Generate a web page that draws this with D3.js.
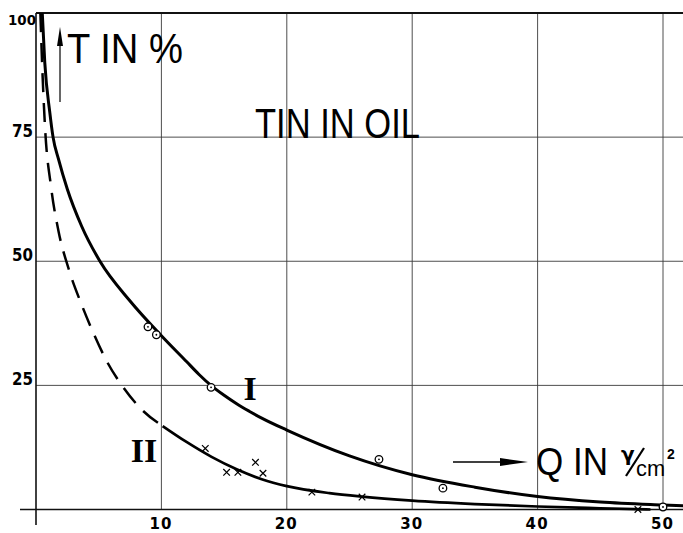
<!DOCTYPE html>
<html>
<head>
<meta charset="utf-8">
<title>Tin in oil</title>
<script src="https://cdn.jsdelivr.net/npm/d3@7"></script>
<style>
body { margin: 0; background: #fff; }
svg { display: block; }
.grid line { stroke: #3a3a3a; stroke-width: 0.9; }
.tick-y { font: bold 18px "DejaVu Sans", sans-serif; text-anchor: end; }
.tick-x { font: bold 15px "DejaVu Sans", sans-serif; text-anchor: middle; }
.big { font: 43px "Liberation Sans", Arial, sans-serif; }
.roman { font: bold 34px "Liberation Serif", serif; text-anchor: middle; }
</style>
</head>
<body>
<script>
// values (x = Q in γ/cm², y = T in %)
var xTicks = [10, 20, 30, 40, 50];
var yTicks = [25, 50, 75, 100];

var curveI = [[0.5, 100], [0.7, 90], [1.1, 80], [1.36, 75], [1.8, 70.5], [2.5, 64.5],
  [3.65, 57], [5.1, 50], [7.5, 42], [10, 35], [12, 29.8], [13, 27.2], [14, 24.9],
  [15, 23.0], [16, 21.3], [17, 19.8], [18, 18.4], [20, 16.0], [25, 10.8], [30, 7.0],
  [35, 4.5], [40, 2.6], [45, 1.5], [50, 0.9], [52, 0.7]];

var curveIIdashed = [[0.35, 100], [0.5, 89], [0.72, 77], [1.2, 65], [1.8, 56], [2.6, 48.5],
  [3.6, 41.5], [4.5, 36], [5.7, 29.6], [6.9, 24.8], [8.4, 20.2], [10.1, 16.8]];

var curveIIsolid = [[10.1, 16.8], [12, 13.6], [14, 10.6], [16, 8.1], [18, 6.1], [20, 4.7],
  [23.4, 3.3], [26, 2.6], [30, 1.8], [35, 1.1], [40, 0.6], [45, 0.25], [49, 0]];

var pointsI = [[8.93, 36.8], [9.6, 35.2], [13.96, 24.6], [27.35, 10.1], [32.45, 4.3], [50, 0.5]];
var pointsII = [[13.5, 12.3], [15.2, 7.5], [16.1, 7.5], [17.5, 9.5], [18.1, 7.3], [22, 3.5],
  [26, 2.5], [48, 0]];

var W = 683, H = 533;
var x = d3.scaleLinear().domain([0, 50]).range([36, 663]);
var y = d3.scaleLinear().domain([0, 100]).range([509.5, 13]);

var svg = d3.select("body").append("svg").attr("width", W).attr("height", H);

// grid
var grid = svg.append("g").attr("class", "grid");
grid.selectAll(".v").data(xTicks).enter().append("line")
  .attr("x1", function(d) { return x(d); }).attr("x2", function(d) { return x(d); })
  .attr("y1", y(100)).attr("y2", y(0));
grid.selectAll(".h").data(yTicks).enter().append("line")
  .attr("x1", x(0)).attr("x2", W)
  .attr("y1", function(d) { return y(d); }).attr("y2", function(d) { return y(d); })
  .style("stroke-width", function(d) { return d === 100 ? 1.8 : 0.9; })
  .style("stroke", function(d) { return d === 100 ? "#111" : null; });

// axes
svg.append("line").attr("x1", x(0)).attr("x2", x(0)).attr("y1", y(100)).attr("y2", 525)
  .attr("stroke", "#111").attr("stroke-width", 1.6);
svg.append("line").attr("x1", 20).attr("x2", W).attr("y1", y(0)).attr("y2", y(0))
  .attr("stroke", "#111").attr("stroke-width", 1.6);

// tick labels
svg.selectAll(".tick-y").data(yTicks).enter().append("text")
  .attr("class", "tick-y")
  .attr("x", function(d) { return d === 100 ? 36 : 33; })
  .attr("y", function(d) { return d === 100 ? y(d) + 12 : y(d) - 0.5; })
  .attr("textLength", function(d) { return d === 100 ? 28 : 21; })
  .attr("lengthAdjust", "spacingAndGlyphs")
  .style("font-size", function(d) { return d === 100 ? "14px" : null; })
  .text(function(d) { return d; });

svg.selectAll(".tick-x").data(xTicks).enter().append("text")
  .attr("class", "tick-x")
  .attr("x", function(d) { return x(d) - 1; })
  .attr("y", 529)
  .attr("textLength", 22)
  .attr("lengthAdjust", "spacing")
  .text(function(d) { return d; });

// curves
var line = d3.line().x(function(d) { return x(d[0]); }).y(function(d) { return y(d[1]); })
  .curve(d3.curveMonotoneX);

svg.append("path").datum(curveI).attr("d", line)
  .attr("fill", "none").attr("stroke", "#000").attr("stroke-width", 3);
svg.append("path").datum(curveIIsolid).attr("d", line)
  .attr("fill", "none").attr("stroke", "#000").attr("stroke-width", 2.7);
svg.append("path").datum(curveIIdashed).attr("d", line)
  .attr("fill", "none").attr("stroke", "#000").attr("stroke-width", 2.5)
  .attr("stroke-dasharray", "19,11");

// markers
var mI = svg.selectAll(".mI").data(pointsI).enter().append("g")
  .attr("transform", function(d) { return "translate(" + x(d[0]) + "," + y(d[1]) + ")"; });
mI.append("circle").attr("r", 3.8).attr("fill", "#fff").attr("stroke", "#000").attr("stroke-width", 1.3);
mI.append("circle").attr("r", 0.9).attr("fill", "#000");

var cross = d3.symbol().type(d3.symbolX).size(30);
svg.selectAll(".mII").data(pointsII).enter().append("path")
  .attr("d", cross)
  .attr("transform", function(d) { return "translate(" + x(d[0]) + "," + y(d[1]) + ")"; })
  .attr("fill", "none").attr("stroke", "#000").attr("stroke-width", 1.2);

// titles
svg.append("line").attr("x1", 60).attr("x2", 60).attr("y1", 102).attr("y2", 34)
  .attr("stroke", "#000").attr("stroke-width", 1.2);
svg.append("path").attr("d", "M60,27 L57,46 L63,46 Z").attr("fill", "#000");
svg.append("text").attr("class", "big").attr("x", 67).attr("y", 63)
  .attr("textLength", 116).attr("lengthAdjust", "spacingAndGlyphs").text("T IN %");

svg.append("text").attr("class", "big").attr("x", 255).attr("y", 138)
  .attr("textLength", 165).attr("lengthAdjust", "spacingAndGlyphs").text("TIN IN OIL");

svg.append("line").attr("x1", 453).attr("x2", 505).attr("y1", 462).attr("y2", 462)
  .attr("stroke", "#000").attr("stroke-width", 1.3);
svg.append("path").attr("d", "M528,462 L500,458 L500,466 Z").attr("fill", "#000");
svg.append("text").attr("class", "big").attr("x", 536).attr("y", 475)
  .style("font-size", "38px")
  .attr("textLength", 72).attr("lengthAdjust", "spacingAndGlyphs").text("Q IN");
svg.append("text").attr("x", 621).attr("y", 461)
  .style("font", "bold 20px 'DejaVu Sans', sans-serif").text("γ");
svg.append("line").attr("x1", 626).attr("x2", 644).attr("y1", 476).attr("y2", 448)
  .attr("stroke", "#000").attr("stroke-width", 2.2);
svg.append("text").attr("x", 636).attr("y", 476)
  .style("font", "22px 'Liberation Sans', sans-serif")
  .attr("textLength", 29).attr("lengthAdjust", "spacingAndGlyphs").text("cm");
svg.append("text").attr("x", 667).attr("y", 459)
  .style("font", "bold 14px 'Liberation Sans', sans-serif").text("2");

// curve labels
svg.append("text").attr("class", "roman").attr("x", 250).attr("y", 400).text("I");
svg.append("text").attr("class", "roman").attr("x", 144).attr("y", 462).text("II");
</script>
</body>
</html>
